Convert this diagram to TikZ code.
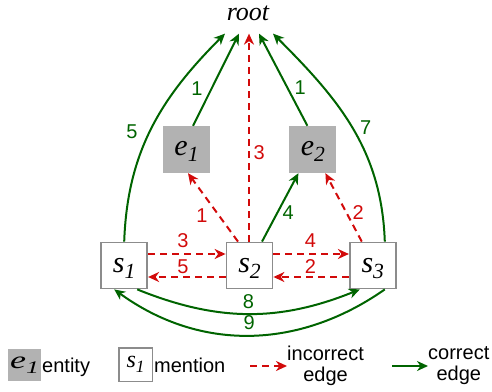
\documentclass[tikz,border=0pt]{standalone}
\usepackage{fontspec}
\setmainfont{Liberation Sans}
\newfontfamily\tmsfont{Liberation Serif}
\usepackage{graphicx}
\usetikzlibrary{positioning,arrows.meta}
\definecolor{corrgreen}{RGB}{0,100,0}
\definecolor{wrongred}{RGB}{210,10,10}
\newcommand\nsub[2]{#1\raisebox{-.2em}{\scalebox{.72}{#2}}}
\newcommand\tms{\tmsfont\itshape\fontsize{30}{30}\selectfont}

\begin{document}
\begin{tikzpicture}[x=1pt, y=1pt,
  lab/.style={font=\fontsize{20}{20}\selectfont, inner sep=1pt},
  ebox/.style={fill=black!30, inner sep=0pt, font=\tms},
  sbox/.style={draw=black!45, fill=white, inner sep=0pt, font=\tms},
  ent/.style={ebox, minimum size=47pt, text height=20pt, text depth=7pt},
  ment/.style={sbox, line width=1.8pt, minimum size=46pt, text height=20pt, text depth=7pt},
  corr/.style={color=corrgreen, line width=2pt, -{Stealth[length=11pt, width=10pt, inset=3.5pt]}},
  wrong/.style={color=wrongred, line width=2pt, dash pattern=on 7pt off 5pt, -{Stealth[length=11pt, width=10pt, inset=3.5pt]}},
  legtxt/.style={font=\fontsize{20}{21}\selectfont, inner sep=0pt, align=center}]
\useasboundingbox (0,0) rectangle (492,391);
\node[font=\tmsfont\itshape\fontsize{26}{26}\selectfont, inner ysep=13pt] (root) at (248,378) {root};
\node[ment] (s2) at (249.5,125.5) {\nsub{s}{2}};
\node[ment, left=77.5pt of s2] (s1) {\nsub{s}{1}};
\node[ment, right=75.5pt of s2] (s3) {\nsub{s}{3}};
\node[ent] (e1) at (186.5,241.5) {\nsub{e}{1}};
\node[ent, right=79pt of e1] (e2) {\nsub{e}{2}};
\draw[corr] ([xshift=6.5pt]e1.north) -- node[lab, pos=.4, left=7pt] {1} ([xshift=-9pt]root.south);
\draw[corr] ([xshift=-5.5pt]e2.north) -- node[lab, pos=.41, right=5pt] {1} ([xshift=11pt]root.south);
\draw[corr] (s1.north) to[out=88, in=225] node[lab, pos=.48, left=10.5pt] {5} ([xshift=-23pt]root.south);
\draw[corr] ([xshift=12pt]s3.north) to[out=92, in=-45] node[lab, pos=.5, right=6pt] {7} ([xshift=25pt]root.south);
\draw[wrong] ([xshift=-.5pt]s2.north) -- node[lab, pos=.43, right=2.5pt] {3} ([xshift=1pt]root.south);
\draw[wrong] ([xshift=-11.5pt]s2.north) -- node[lab, pos=.38, left=9.5pt] {1} ([xshift=1.5pt]e1.south);
\draw[corr] ([xshift=12.5pt]s2.north) -- node[lab, pos=.43, right=3pt] {4} ([xshift=-14.5pt]e2.south);
\draw[wrong] ([xshift=-11pt]s3.north) -- node[lab, pos=.42, right=4pt] {2} ([xshift=12.5pt]e2.south);
\draw[wrong] ([yshift=11.5pt]s1.east) -- node[lab, pos=.45, above=4.8pt] {3} ([yshift=11.5pt]s2.west);
\draw[wrong] ([yshift=-11.5pt]s2.west) -- node[lab, pos=.55, above=1.8pt] {5} ([yshift=-11.5pt]s1.east);
\draw[wrong] ([yshift=11.5pt]s2.east) -- node[lab, pos=.49, above=4.8pt] {4} ([yshift=11.5pt]s3.west);
\draw[wrong] ([yshift=-11.5pt]s3.west) -- node[lab, pos=.51, above=1.8pt] {2} ([yshift=-11.5pt]s2.east);
\draw[corr] ([xshift=13pt]s1.south) to[out=-22, in=202] node[lab, above=2.8pt] {8} ([xshift=-13pt]s3.south);
\draw[corr] ([xshift=12pt]s3.south) to[out=215, in=-36] node[lab, above=3.8pt] {9} ([xshift=-10pt]s1.south);
\node[ebox, minimum width=33pt, minimum height=32pt] (le) at (24.5,26) {\scalebox{1.2}[.82]{\nsub{e}{1}}};
\node[legtxt, anchor=base west] (lent) at (42,19) {entity};
\node[sbox, line width=1.5pt, minimum size=33.5pt, font=\tmsfont\itshape\fontsize{24}{24}\selectfont] (ls) at (135.5,26.5) {\nsub{s}{1}};
\node[legtxt, anchor=base west] (lmen) at (154,19) {mention};
\coordinate (lw) at (250,25);
\node[legtxt, anchor=west] (lwt) at (287,25) {incorrect\\edge};
\draw[wrong] (lw) -- (lwt.west);
\coordinate (lc) at (392,25);
\node[legtxt, anchor=west] (lct) at (428,25) {correct\\edge};
\draw[corr] (lc) -- (lct.west);
\end{tikzpicture}
\end{document}
